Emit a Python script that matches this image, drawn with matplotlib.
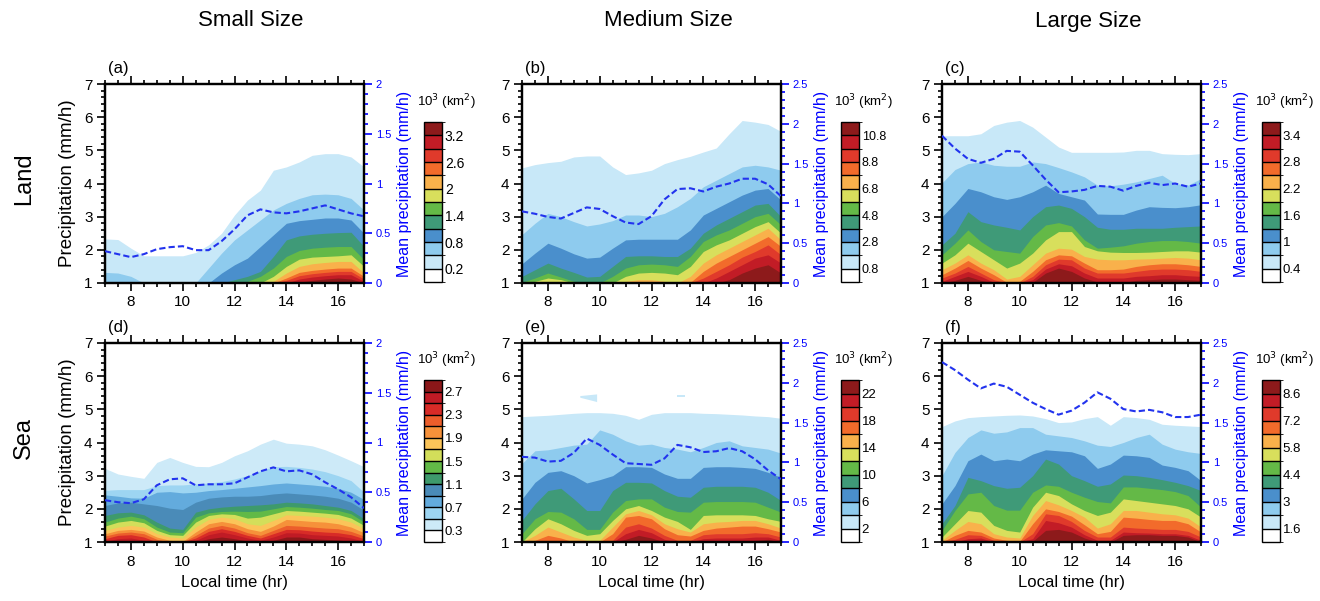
import matplotlib
matplotlib.use("Agg")
import matplotlib.pyplot as plt
import matplotlib as mpl
from matplotlib.colors import ListedColormap, BoundaryNorm
from matplotlib.ticker import MultipleLocator

plt.rcParams['font.family'] = ['Liberation Sans', 'DejaVu Sans']

# local time (hr)
times = [7, 7.5, 8, 8.5, 9, 9.5, 10, 10.5, 11, 11.5, 12,
         12.5, 13, 13.5, 14, 14.5, 15, 15.5, 16, 16.5, 17]

colors12 = ['#ffffff', '#c8e8f8', '#8ecbee', '#4a8fcc', '#3f9a78', '#64b947',
            '#d8df5c', '#f9b14b', '#f26b2b', '#e03a2b', '#c21c26', '#8d1a1b']
colors14 = ['#ffffff', '#cdeaf8', '#9dd5f2', '#63abdd', '#4a8bb8', '#3e9a6c', '#62b947',
            '#d3de5a', '#fbc459', '#f6913a', '#ec5e2b', '#d82b27', '#c01b25', '#8b1719']

# contour levels (10^3 km^2) and the precipitation height (mm/h) of each level at each time
a_levels = [0.2, 0.5, 0.8, 1.1, 1.4, 1.7, 2.0, 2.3, 2.6, 2.9, 3.2]
a_tops = [
    [2.33, 2.31, 2.05, 1.82, 1.82, 1.82, 1.82, 1.92, 2.15, 2.50, 3.05, 3.50, 3.80, 4.40, 4.50, 4.65, 4.85, 4.90, 4.90, 4.80, 4.50],
    [1.32, 1.30, 1.20, 1.00, 1.00, 1.00, 1.00, 1.00, 1.45, 1.90, 2.30, 2.60, 2.90, 3.20, 3.40, 3.55, 3.66, 3.68, 3.66, 3.55, 3.20],
    [1, 1, 1, 1, 1, 1, 1, 1, 1.00, 1.30, 1.55, 1.75, 2.10, 2.45, 2.80, 2.88, 2.92, 2.96, 2.96, 2.90, 2.50],
    [1, 1, 1, 1, 1, 1, 1, 1, 1, 1.00, 1.10, 1.20, 1.35, 1.80, 2.30, 2.42, 2.47, 2.50, 2.52, 2.53, 2.10],
    [1, 1, 1, 1, 1, 1, 1, 1, 1, 1, 1.00, 1.05, 1.20, 1.45, 1.80, 1.98, 2.05, 2.08, 2.10, 2.10, 1.70],
    [1, 1, 1, 1, 1, 1, 1, 1, 1, 1, 1, 1, 1.00, 1.20, 1.50, 1.72, 1.78, 1.80, 1.82, 1.85, 1.50],
    [1, 1, 1, 1, 1, 1, 1, 1, 1, 1, 1, 1, 1, 1.05, 1.30, 1.50, 1.58, 1.62, 1.65, 1.65, 1.30],
    [1, 1, 1, 1, 1, 1, 1, 1, 1, 1, 1, 1, 1, 1.00, 1.15, 1.32, 1.38, 1.42, 1.45, 1.45, 1.20],
    [1, 1, 1, 1, 1, 1, 1, 1, 1, 1, 1, 1, 1, 1, 1.08, 1.22, 1.28, 1.32, 1.35, 1.35, 1.12],
    [1, 1, 1, 1, 1, 1, 1, 1, 1, 1, 1, 1, 1, 1, 1.00, 1.12, 1.18, 1.22, 1.25, 1.25, 1.05],
    [1, 1, 1, 1, 1, 1, 1, 1, 1, 1, 1, 1, 1, 1, 1, 1.03, 1.08, 1.12, 1.15, 1.12, 1.00],
]
a_mean = [0.32, 0.29, 0.26, 0.29, 0.34, 0.36, 0.37, 0.33, 0.33, 0.42, 0.54,
          0.68, 0.74, 0.71, 0.70, 0.72, 0.75, 0.78, 0.74, 0.70, 0.67]

b_levels = [0.8, 1.8, 2.8, 3.8, 4.8, 5.8, 6.8, 7.8, 8.8, 9.8, 10.8]
b_tops = [
    [4.47, 4.57, 4.63, 4.67, 4.80, 4.83, 4.83, 4.50, 4.27, 4.32, 4.40, 4.60, 4.72, 4.82, 4.95, 5.07, 5.50, 5.90, 5.85, 5.78, 5.57],
    [2.46, 2.80, 3.10, 3.00, 2.85, 2.72, 2.78, 2.88, 3.05, 3.05, 3.00, 3.10, 3.30, 3.55, 3.90, 4.10, 4.30, 4.50, 4.55, 4.50, 4.40],
    [1.58, 1.90, 2.20, 2.05, 1.88, 1.75, 1.78, 2.05, 2.30, 2.32, 2.32, 2.32, 2.32, 2.60, 3.05, 3.25, 3.45, 3.65, 3.80, 3.85, 3.50],
    [1.20, 1.40, 1.60, 1.45, 1.32, 1.18, 1.20, 1.50, 1.80, 1.82, 1.82, 1.80, 1.80, 2.05, 2.50, 2.75, 2.95, 3.15, 3.35, 3.40, 3.00],
    [1.02, 1.15, 1.30, 1.18, 1.05, 1.00, 1.00, 1.20, 1.45, 1.55, 1.57, 1.55, 1.50, 1.80, 2.25, 2.45, 2.60, 2.80, 3.00, 3.10, 2.75],
    [1.00, 1.05, 1.15, 1.10, 1.00, 1.00, 1.00, 1.00, 1.20, 1.30, 1.32, 1.30, 1.25, 1.50, 1.95, 2.15, 2.30, 2.50, 2.70, 2.85, 2.50],
    [1, 1, 1, 1, 1, 1, 1, 1, 1.05, 1.10, 1.10, 1.05, 1.00, 1.20, 1.60, 1.85, 2.05, 2.25, 2.45, 2.65, 2.30],
    [1, 1, 1, 1, 1, 1, 1, 1, 1, 1, 1, 1, 1, 1.02, 1.35, 1.60, 1.80, 2.00, 2.20, 2.40, 2.10],
    [1, 1, 1, 1, 1, 1, 1, 1, 1, 1, 1, 1, 1, 1, 1.15, 1.35, 1.55, 1.78, 1.95, 2.15, 1.85],
    [1, 1, 1, 1, 1, 1, 1, 1, 1, 1, 1, 1, 1, 1, 1, 1.15, 1.35, 1.55, 1.75, 1.85, 1.60],
    [1, 1, 1, 1, 1, 1, 1, 1, 1, 1, 1, 1, 1, 1, 1, 1, 1.10, 1.30, 1.45, 1.55, 1.30],
]
b_mean = [0.90, 0.87, 0.83, 0.81, 0.88, 0.95, 0.93, 0.84, 0.76, 0.74, 0.84,
          1.05, 1.18, 1.19, 1.15, 1.21, 1.25, 1.31, 1.31, 1.24, 1.09]

c_levels = [0.4, 0.7, 1.0, 1.3, 1.6, 1.9, 2.2, 2.5, 2.8, 3.1, 3.4]
c_tops = [
    [5.44, 5.44, 5.44, 5.50, 5.75, 5.85, 5.90, 5.70, 5.40, 5.10, 4.94, 4.94, 4.94, 4.94, 4.95, 5.00, 5.00, 4.90, 4.88, 4.87, 4.90],
    [4.02, 4.42, 4.60, 4.65, 4.55, 4.52, 4.52, 4.65, 4.60, 4.48, 4.35, 4.20, 3.95, 3.93, 3.98, 4.05, 4.15, 4.25, 4.00, 3.95, 4.15],
    [3.00, 3.40, 3.85, 3.75, 3.60, 3.52, 3.60, 3.75, 3.95, 3.70, 3.60, 3.50, 3.08, 3.07, 3.07, 3.20, 3.30, 3.28, 3.27, 3.30, 3.36],
    [2.15, 2.50, 3.15, 2.85, 2.75, 2.68, 2.60, 3.00, 3.30, 3.35, 3.25, 3.00, 2.68, 2.62, 2.62, 2.65, 2.65, 2.65, 2.68, 2.70, 2.72],
    [1.85, 2.20, 2.60, 2.25, 2.00, 1.95, 1.90, 2.40, 2.75, 2.82, 2.72, 2.30, 2.05, 2.08, 2.12, 2.20, 2.25, 2.28, 2.28, 2.25, 2.20],
    [1.60, 1.85, 2.20, 1.95, 1.70, 1.45, 1.60, 1.90, 2.30, 2.55, 2.55, 2.10, 1.97, 1.93, 1.92, 1.92, 1.93, 1.95, 1.97, 1.97, 1.93],
    [1.40, 1.60, 1.85, 1.60, 1.40, 1.12, 1.20, 1.55, 1.90, 2.05, 2.02, 1.80, 1.72, 1.70, 1.70, 1.72, 1.73, 1.75, 1.77, 1.75, 1.70],
    [1.25, 1.45, 1.68, 1.45, 1.25, 1.02, 1.05, 1.35, 1.70, 1.85, 1.82, 1.60, 1.40, 1.40, 1.42, 1.50, 1.55, 1.58, 1.58, 1.55, 1.50],
    [1.15, 1.30, 1.50, 1.30, 1.10, 1.00, 1.00, 1.20, 1.55, 1.72, 1.70, 1.45, 1.30, 1.30, 1.30, 1.35, 1.40, 1.42, 1.42, 1.40, 1.35],
    [1.05, 1.20, 1.35, 1.20, 1.02, 1.00, 1.00, 1.10, 1.42, 1.58, 1.52, 1.30, 1.15, 1.15, 1.15, 1.20, 1.22, 1.25, 1.25, 1.22, 1.20],
    [1.00, 1.08, 1.20, 1.08, 1.00, 1.00, 1.00, 1.02, 1.30, 1.45, 1.35, 1.15, 1.03, 1.02, 1.02, 1.08, 1.10, 1.12, 1.12, 1.10, 1.08],
]
c_mean = [1.85, 1.69, 1.56, 1.51, 1.56, 1.66, 1.65, 1.48, 1.30, 1.14, 1.15,
          1.17, 1.22, 1.21, 1.16, 1.22, 1.26, 1.23, 1.25, 1.21, 1.25]

d_levels = [0.3, 0.5, 0.7, 0.9, 1.1, 1.3, 1.5, 1.7, 1.9, 2.1, 2.3, 2.5, 2.7]
d_tops = [
    [3.22, 3.05, 2.98, 2.92, 3.40, 3.55, 3.40, 3.28, 3.27, 3.40, 3.60, 3.75, 3.95, 4.10, 3.98, 3.95, 3.90, 3.78, 3.62, 3.45, 3.27],
    [2.56, 2.58, 2.58, 2.58, 2.70, 2.72, 2.72, 2.75, 2.78, 2.82, 2.90, 3.00, 3.15, 3.27, 3.28, 3.25, 3.20, 3.12, 3.00, 2.85, 2.50],
    [2.42, 2.38, 2.33, 2.32, 2.50, 2.52, 2.48, 2.50, 2.55, 2.58, 2.62, 2.66, 2.70, 2.75, 2.78, 2.75, 2.72, 2.68, 2.62, 2.50, 2.28],
    [2.10, 2.18, 2.20, 2.15, 2.10, 2.02, 1.98, 2.20, 2.32, 2.36, 2.38, 2.38, 2.40, 2.45, 2.48, 2.45, 2.42, 2.38, 2.32, 2.20, 1.96],
    [1.80, 1.88, 1.90, 1.82, 1.60, 1.42, 1.38, 1.90, 2.00, 2.05, 2.08, 2.10, 2.12, 2.15, 2.20, 2.18, 2.15, 2.10, 2.05, 1.95, 1.70],
    [1.60, 1.72, 1.78, 1.70, 1.45, 1.30, 1.28, 1.75, 1.88, 1.92, 1.93, 1.92, 1.93, 2.00, 2.07, 2.05, 2.02, 1.98, 1.95, 1.85, 1.60],
    [1.48, 1.60, 1.65, 1.58, 1.35, 1.22, 1.20, 1.60, 1.80, 1.85, 1.83, 1.72, 1.75, 1.85, 1.95, 1.93, 1.90, 1.87, 1.83, 1.72, 1.50],
    [1.35, 1.45, 1.50, 1.45, 1.25, 1.15, 1.12, 1.45, 1.68, 1.75, 1.70, 1.55, 1.50, 1.65, 1.82, 1.80, 1.78, 1.75, 1.70, 1.60, 1.40],
    [1.25, 1.35, 1.38, 1.33, 1.15, 1.05, 1.02, 1.30, 1.55, 1.62, 1.55, 1.40, 1.32, 1.48, 1.68, 1.65, 1.62, 1.60, 1.55, 1.45, 1.28],
    [1.18, 1.27, 1.30, 1.25, 1.08, 1.00, 1.00, 1.20, 1.42, 1.50, 1.42, 1.28, 1.20, 1.35, 1.50, 1.48, 1.45, 1.42, 1.40, 1.32, 1.18],
    [1.10, 1.20, 1.22, 1.15, 1.00, 1.00, 1.00, 1.12, 1.32, 1.40, 1.32, 1.20, 1.12, 1.25, 1.38, 1.37, 1.33, 1.30, 1.28, 1.22, 1.10],
    [1.02, 1.10, 1.12, 1.05, 1.00, 1.00, 1.00, 1.05, 1.22, 1.30, 1.22, 1.12, 1.05, 1.15, 1.28, 1.27, 1.22, 1.20, 1.18, 1.12, 1.02],
    [1.00, 1.02, 1.03, 1.00, 1.00, 1.00, 1.00, 1.00, 1.10, 1.15, 1.10, 1.03, 1.00, 1.05, 1.15, 1.15, 1.10, 1.08, 1.06, 1.02, 1.00],
]
d_mean = [0.42, 0.40, 0.39, 0.43, 0.57, 0.63, 0.64, 0.57, 0.58, 0.58, 0.59,
          0.65, 0.71, 0.75, 0.71, 0.72, 0.68, 0.60, 0.53, 0.45, 0.34]

e_levels = [2, 4, 6, 8, 10, 12, 14, 16, 18, 20, 22]
e_tops = [
    [4.78, 4.80, 4.82, 4.85, 4.88, 4.90, 4.90, 4.88, 4.82, 4.70, 4.85, 4.90, 4.90, 4.90, 4.88, 4.87, 4.85, 4.83, 4.80, 4.78, 4.73],
    [3.37, 3.75, 3.78, 3.85, 3.92, 3.95, 4.38, 4.25, 4.05, 3.92, 3.95, 3.85, 3.80, 3.72, 3.85, 4.00, 4.05, 3.90, 3.85, 3.80, 3.68],
    [2.30, 2.80, 3.10, 3.15, 3.00, 2.78, 2.88, 3.00, 3.27, 3.27, 3.25, 3.05, 2.92, 2.92, 3.25, 3.27, 3.27, 3.25, 3.22, 3.10, 2.95],
    [1.65, 2.15, 2.55, 2.62, 2.30, 1.95, 1.95, 2.55, 2.80, 2.80, 2.78, 2.55, 2.38, 2.35, 2.65, 2.68, 2.68, 2.68, 2.65, 2.50, 2.25],
    [1.25, 1.70, 1.92, 1.90, 1.70, 1.38, 1.38, 1.90, 2.25, 2.30, 2.30, 2.05, 1.92, 1.90, 2.20, 2.22, 2.22, 2.22, 2.20, 2.05, 1.90],
    [1.00, 1.40, 1.70, 1.55, 1.35, 1.20, 1.25, 1.65, 2.00, 2.10, 1.95, 1.75, 1.62, 1.38, 1.80, 1.82, 1.82, 1.82, 1.80, 1.70, 1.62],
    [1.00, 1.20, 1.45, 1.30, 1.15, 1.05, 1.05, 1.45, 1.85, 1.95, 1.82, 1.55, 1.40, 1.30, 1.55, 1.60, 1.62, 1.65, 1.65, 1.55, 1.42],
    [1.00, 1.05, 1.20, 1.12, 1.00, 1.00, 1.00, 1.25, 1.75, 1.80, 1.70, 1.40, 1.22, 1.18, 1.35, 1.42, 1.45, 1.48, 1.48, 1.40, 1.30],
    [1.00, 1.00, 1.02, 1.00, 1.00, 1.00, 1.00, 1.05, 1.45, 1.55, 1.42, 1.20, 1.05, 1.05, 1.22, 1.25, 1.25, 1.25, 1.28, 1.25, 1.15],
    [1, 1, 1, 1, 1, 1, 1, 1.00, 1.25, 1.38, 1.28, 1.08, 1.00, 1.00, 1.10, 1.12, 1.12, 1.12, 1.15, 1.15, 1.05],
    [1, 1, 1, 1, 1, 1, 1, 1.00, 1.08, 1.20, 1.12, 1.00, 1.00, 1.00, 1.00, 1.00, 1.00, 1.00, 1.05, 1.08, 1.00],
]
e_mean = [1.07, 1.06, 1.01, 1.02, 1.12, 1.30, 1.22, 1.10, 0.99, 0.98, 0.97,
          1.05, 1.22, 1.19, 1.13, 1.14, 1.18, 1.14, 1.04, 0.90, 0.79]
# small isolated patches above 2x10^3 km^2 in (e)
e_patch_t = [[9.25, 9.9, 9.9, 9.25], [13.0, 13.3, 13.3, 13.0]]
e_patch_p = [[5.40, 5.45, 5.22, 5.35], [5.42, 5.42, 5.36, 5.36]]

f_levels = [1.6, 2.3, 3.0, 3.7, 4.4, 5.1, 5.8, 6.5, 7.2, 7.9, 8.6]
f_tops = [
    [4.48, 4.65, 4.75, 4.78, 4.80, 4.82, 4.83, 4.80, 4.72, 4.60, 4.62, 4.72, 4.78, 4.52, 4.78, 4.75, 4.70, 4.55, 4.52, 4.50, 4.48],
    [3.00, 3.70, 4.15, 4.38, 4.28, 4.32, 4.45, 4.45, 4.25, 4.20, 4.15, 4.05, 3.92, 3.88, 4.00, 4.15, 4.25, 3.95, 3.80, 3.72, 3.67],
    [2.15, 2.70, 3.45, 3.65, 3.45, 3.50, 3.45, 3.65, 3.78, 3.75, 3.72, 3.60, 3.22, 3.35, 3.62, 3.60, 3.55, 3.32, 3.25, 3.15, 2.85],
    [1.55, 2.10, 2.95, 2.85, 2.70, 2.62, 2.65, 3.00, 3.50, 3.35, 3.00, 2.85, 2.68, 2.75, 3.02, 3.00, 2.95, 2.88, 2.80, 2.70, 2.55],
    [1.35, 1.95, 2.45, 2.50, 2.10, 1.96, 1.96, 2.50, 2.72, 2.68, 2.50, 2.35, 2.22, 2.18, 2.66, 2.66, 2.62, 2.58, 2.52, 2.40, 2.05],
    [1.15, 1.55, 1.95, 1.90, 1.50, 1.35, 1.30, 2.05, 2.50, 2.40, 2.15, 1.95, 1.80, 1.90, 2.30, 2.25, 2.20, 2.15, 2.10, 2.00, 1.75],
    [1.05, 1.35, 1.62, 1.55, 1.25, 1.15, 1.12, 1.80, 2.25, 2.12, 1.95, 1.75, 1.42, 1.55, 1.95, 1.95, 1.90, 1.85, 1.82, 1.72, 1.45],
    [1.00, 1.20, 1.35, 1.30, 1.12, 1.05, 1.02, 1.55, 2.00, 1.92, 1.78, 1.52, 1.25, 1.32, 1.75, 1.72, 1.68, 1.65, 1.65, 1.55, 1.30],
    [1.00, 1.08, 1.22, 1.20, 1.05, 1.00, 1.00, 1.25, 1.85, 1.80, 1.62, 1.35, 1.15, 1.15, 1.45, 1.42, 1.40, 1.38, 1.38, 1.32, 1.15],
    [1.00, 1.00, 1.10, 1.12, 1.00, 1.00, 1.00, 1.10, 1.65, 1.58, 1.45, 1.22, 1.05, 1.05, 1.30, 1.28, 1.27, 1.25, 1.25, 1.20, 1.05],
    [1.00, 1.00, 1.00, 1.05, 1.00, 1.00, 1.00, 1.02, 1.35, 1.38, 1.30, 1.12, 1.00, 1.00, 1.20, 1.22, 1.22, 1.20, 1.20, 1.15, 1.00],
]
f_mean = [2.26, 2.16, 2.04, 1.93, 1.99, 1.95, 1.85, 1.75, 1.67, 1.60, 1.65,
          1.75, 1.88, 1.80, 1.67, 1.64, 1.66, 1.63, 1.57, 1.57, 1.60]

col_titles = ['Small Size', 'Medium Size', 'Large Size']
row_titles = ['Land', 'Sea']

panels = [
    ('(a)', a_levels, a_tops, a_mean, 2.0, colors12, 10),
    ('(b)', b_levels, b_tops, b_mean, 2.5, colors12, 9),
    ('(c)', c_levels, c_tops, c_mean, 2.5, colors12, 9.5),
    ('(d)', d_levels, d_tops, d_mean, 2.0, colors14, 9.5),
    ('(e)', e_levels, e_tops, e_mean, 2.5, colors12, 9.5),
    ('(f)', f_levels, f_tops, f_mean, 2.5, colors12, 9.5),
]

W, H = 1320, 601
fig = plt.figure(figsize=(W / 100, H / 100), dpi=100)


def rect(l, t, w, h):
    return [l / W, 1 - (t + h) / H, w / W, h / H]


ax_left = [105, 522, 942]
ax_top = [84, 343]
cb_left = [424, 841, 1262]
cb_top = [122, 380]
cb_h = [160, 162]
line_blue = '#2233ee'

for i, (tag, levels, tops, mean, ymax2, colors, cbfs) in enumerate(panels):
    r, c = divmod(i, 3)
    ax = fig.add_axes(rect(ax_left[c], ax_top[r], 259, 199))
    for k, top in enumerate(tops):
        ax.fill_between(times, 1, top, color=colors[k + 1], lw=0, zorder=1)
    if tag == '(e)':
        for pt, pp in zip(e_patch_t, e_patch_p):
            ax.fill(pt, pp, color=colors[1], lw=0, zorder=1)
    ax.set_xlim(7, 17)
    ax.set_ylim(1, 7)
    ax.xaxis.set_minor_locator(MultipleLocator(0.5))
    ax.yaxis.set_major_locator(MultipleLocator(1))
    ax.yaxis.set_minor_locator(MultipleLocator(0.2))
    ax.set_xticks([8, 10, 12, 14, 16])
    ax.tick_params(which='both', direction='out', top=True, labelsize=11, width=1.2)
    ax.tick_params(which='major', length=5.5)
    ax.tick_params(which='minor', length=3)
    ax.tick_params(axis='y', right=False)
    for sp in ax.spines.values():
        sp.set_linewidth(1.6)
    ax.text(0.012, 1.04, tag, transform=ax.transAxes, fontsize=12, ha='left', va='bottom')
    if c == 0:
        ax.set_ylabel('Precipitation (mm/h)', fontsize=13.5, labelpad=6)
    if r == 1:
        ax.set_xlabel('Local time (hr)', fontsize=12, labelpad=5)

    ax2 = ax.twinx()
    ax2.plot(times, mean, color=line_blue, lw=1.5, ls=(0, (3, 1.5)), zorder=3)
    ax2.set_ylim(0, ymax2)
    ax2.yaxis.set_minor_locator(MultipleLocator(0.1))
    ax2.tick_params(axis='y', which='both', direction='out', colors='blue', labelsize=8, width=1.2)
    ax2.tick_params(axis='y', which='major', length=5.5, pad=3)
    ax2.tick_params(axis='y', which='minor', length=3)
    n2 = int(ymax2 / 0.5) + 1
    ax2.set_yticks([v * 0.5 for v in range(n2)])
    ax2.set_yticklabels([f'{v * 0.5:g}' for v in range(n2)])
    for sp in ax2.spines.values():
        sp.set_linewidth(1.6)
        sp.set_color('black')
    ax2.set_ylabel('Mean precipitation (mm/h)', color='blue', fontsize=11.5, labelpad=4)

    # label bar
    cax = fig.add_axes(rect(cb_left[c], cb_top[r], 18, cb_h[r]))
    step = levels[1] - levels[0]
    bounds = [levels[0] - step] + levels + [levels[-1] + step]
    cmap = ListedColormap(colors)
    norm = BoundaryNorm(bounds, cmap.N)
    cb = fig.colorbar(mpl.cm.ScalarMappable(norm=norm, cmap=cmap), cax=cax,
                      boundaries=bounds, spacing='uniform', drawedges=True,
                      ticks=levels[::2])
    cb.set_ticklabels([f'{v:g}' for v in levels[::2]])
    cb.ax.tick_params(length=0, labelsize=cbfs, pad=2)
    cb.outline.set_linewidth(1.0)
    cb.dividers.set_linewidth(1.0)
    fig.text((cb_left[c] + 22) / W, 1 - (cb_top[r] - 20) / H, '10$^3$ (km$^2$)',
             fontsize=9.5, ha='center', va='center')

for c, title in enumerate(col_titles):
    fig.text((ax_left[c] + 146) / W, 1 - 21 / H, title, fontsize=16, ha='center', va='center')
for r, title in enumerate(row_titles):
    fig.text(24 / W, 1 - (ax_top[r] + 95) / H, title, fontsize=17, rotation=90,
             ha='center', va='center')

fig.savefig('out.png', dpi=100)
